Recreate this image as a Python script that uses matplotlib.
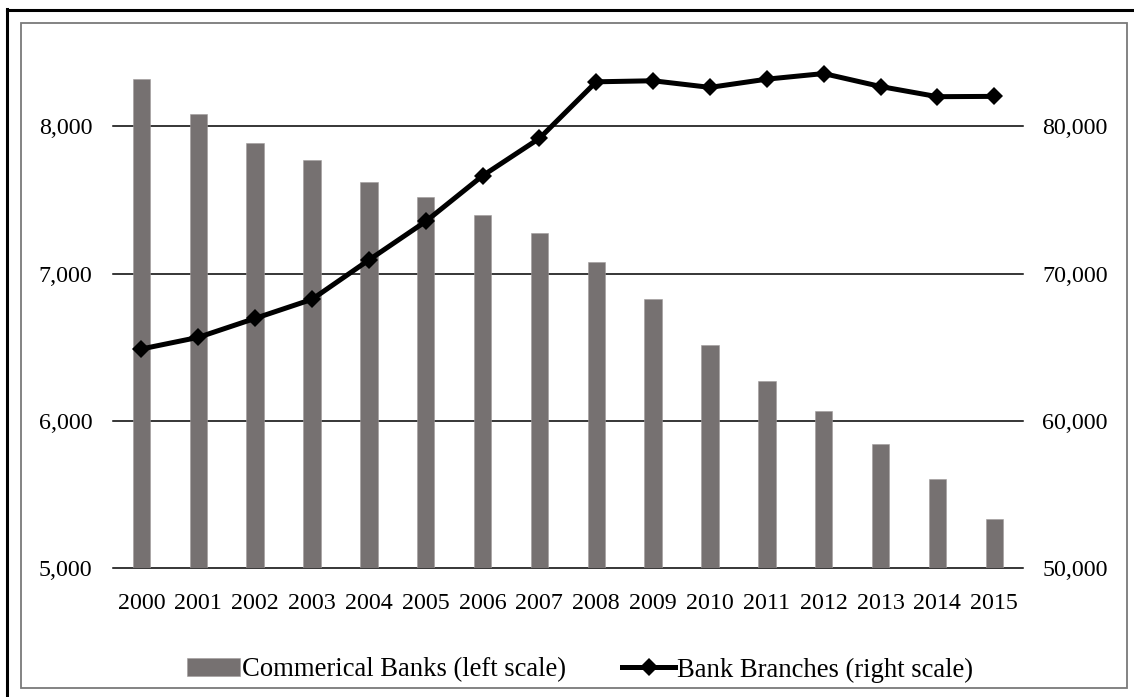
import matplotlib
matplotlib.use("Agg")
import matplotlib.pyplot as plt
from matplotlib.lines import Line2D
from matplotlib.patches import Rectangle
from matplotlib.ticker import FuncFormatter, FixedLocator

years = [str(y) for y in range(2000, 2016)]
commercial_banks = [8319, 8084, 7890, 7770, 7625, 7523, 7397, 7279,
                    7078, 6826, 6516, 6274, 6068, 5846, 5604, 5337]
bank_branches = [64890, 65680, 66970, 68260, 70930, 73550, 76650, 79190,
                 83030, 83100, 82650, 83210, 83590, 82710, 82020, 82040]
left_ticks = [5000, 6000, 7000, 8000]
right_ticks = [50000, 60000, 70000, 80000]

plt.rcParams["font.family"] = ["Liberation Serif", "DejaVu Serif"]
FS = 17.3
LFS = 19.2

W, H = 1134, 697
fig = plt.figure(figsize=(W / 100, H / 100), dpi=100)

# plot area in pixel coordinates
x0, x1, y_bot, y_top = 113, 1022.7, 568.3, 60
ax = fig.add_axes([x0 / W, 1 - y_bot / H, (x1 - x0) / W, (y_bot - y_top) / H])
ax2 = ax.twinx()

pos = list(range(len(years)))
bar_color = "#767171"
ax.bar(pos, commercial_banks, width=0.305, color=bar_color,
       edgecolor="#a09c9c", linewidth=0.4, zorder=2,
       label="Commerical Banks (left scale)")
ax.set_ylim(5000, 8451)
ax.set_xlim(-0.5, len(years) - 0.5)

ax2.plot(pos, bank_branches, color="black", linewidth=3.6, marker="D",
         markersize=9, markeredgewidth=0, zorder=3,
         label="Bank Branches (right scale)")
ax2.set_ylim(50000, 84510)

fmt = FuncFormatter(lambda v, p: f"{int(v):,}")
ax.yaxis.set_major_locator(FixedLocator(left_ticks))
ax.yaxis.set_major_formatter(fmt)
ax2.yaxis.set_major_locator(FixedLocator(right_ticks))
ax2.yaxis.set_major_formatter(fmt)

ax.set_xticks(pos)
ax.set_xticklabels(years)
ax.yaxis.grid(True, color="black", linewidth=1.1, zorder=0)
for gl in ax.get_ygridlines():
    gl.set_clip_on(False)
ax.set_axisbelow(True)

ax.tick_params(axis="y", length=0, pad=15, labelsize=FS)
ax.tick_params(axis="x", length=0, pad=17.5, labelsize=FS)
ax2.tick_params(axis="y", length=0, pad=14, labelsize=FS)

for a in (ax, ax2):
    for s in a.spines.values():
        s.set_visible(False)

handles = [ax.containers[0], ax2.get_lines()[0]]
labels = ["Commerical Banks (left scale)", "Bank Branches (right scale)"]
fig.legend(handles, labels, loc="center", bbox_to_anchor=(580 / W, 1 - 670 / H),
           ncol=2, frameon=False, fontsize=LFS, handlelength=2.0,
           handleheight=0.68, handletextpad=0.06, columnspacing=2.1,
           borderaxespad=0)

# outer black border (left and top) and the inner grey frame
fig.add_artist(Line2D([7 / W, 7 / W], [0, 1 - 8.5 / H], color="black",
                      linewidth=2.2, transform=fig.transFigure))
fig.add_artist(Line2D([7 / W, 1], [1 - 9.5 / H, 1 - 9.5 / H], color="black",
                      linewidth=2.2, transform=fig.transFigure))
fig.add_artist(Rectangle((21 / W, 1 - 688 / H), (1126.5 - 21) / W, (688 - 22.5) / H,
                         fill=False, edgecolor="#7a7a7a", linewidth=1.3,
                         transform=fig.transFigure))

fig.savefig("out.png", dpi=100)
